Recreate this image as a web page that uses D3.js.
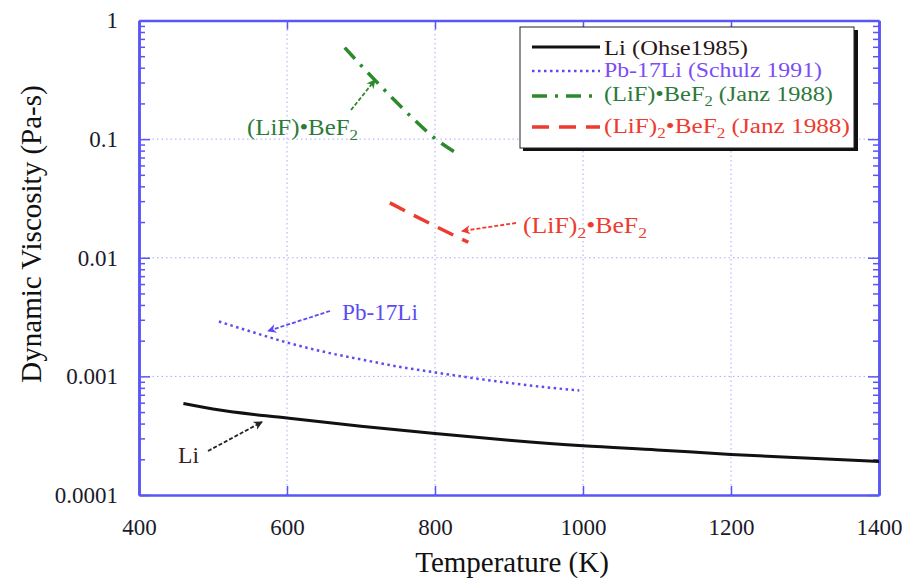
<!DOCTYPE html>
<html>
<head>
<meta charset="utf-8">
<title>Dynamic Viscosity</title>
<script src="https://cdnjs.cloudflare.com/ajax/libs/d3/7.8.5/d3.min.js"></script>
<style>
  body { margin: 0; background: #fff; }
  svg text { font-family: "Liberation Serif", "DejaVu Serif", serif; }
</style>
</head>
<body>
<div id="chart"></div>
<script>
// values
var liT   = [460, 500, 600, 700, 800, 900, 1000, 1100, 1200, 1300, 1400];
var liV   = [5.9e-4, 5.3e-4, 4.45e-4, 3.8e-4, 3.3e-4, 2.9e-4, 2.6e-4, 2.4e-4, 2.2e-4, 2.05e-4, 1.92e-4];
var pbT   = [508, 550, 600, 650, 700, 750, 800, 850, 900, 950, 995];
var pbV   = [2.9e-3, 2.4e-3, 1.93e-3, 1.61e-3, 1.39e-3, 1.21e-3, 1.08e-3, 0.97e-3, 0.88e-3, 0.81e-3, 0.76e-3];
var flibeT = [678, 703, 743, 769, 803, 831];
var flibeV = [0.59, 0.40, 0.22, 0.152, 0.098, 0.075];
var flibe2T = [739, 770, 804, 845];
var flibe2V = [0.029, 0.023, 0.018, 0.0135];

var xTicks = [400, 600, 800, 1000, 1200, 1400];
var yTicks = [0.0001, 0.001, 0.01, 0.1, 1];
var yTickLabels = ["0.0001", "0.001", "0.01", "0.1", "1"];

var W = 907, H = 581;
var L = 139, R = 879, T = 20.5, B = 495;
var frame = "#5a55f5";

var svg = d3.select("#chart").append("svg")
    .attr("width", W).attr("height", H);

var x = d3.scaleLinear().domain([400, 1400]).range([L, R]);
var y = d3.scaleLog().domain([1e-4, 1]).range([B, T]);

// arrow markers
function marker(id, col) {
  svg.append("defs").append("marker")
    .attr("id", id).attr("viewBox", "0 0 10 10")
    .attr("refX", 9).attr("refY", 5)
    .attr("markerWidth", 13).attr("markerHeight", 9)
    .attr("markerUnits", "userSpaceOnUse")
    .attr("orient", "auto")
    .append("path").attr("d", "M0,0 L10,5 L0,10 L3,5 Z").attr("fill", col);
}
marker("aG", "#2c8a2c");
marker("aR", "#ee3b30");
marker("aB", "#5b4cf0");
marker("aK", "#222");

// grid
svg.append("g").selectAll("line")
  .data(xTicks.slice(1, -1)).enter().append("line")
  .attr("x1", d => x(d)).attr("x2", d => x(d))
  .attr("y1", T).attr("y2", B)
  .attr("stroke", "#a8a8ff").attr("stroke-width", 1).attr("stroke-dasharray", "1.5,3");
svg.append("g").selectAll("line")
  .data(yTicks.slice(1, -1)).enter().append("line")
  .attr("x1", L).attr("x2", R)
  .attr("y1", d => y(d)).attr("y2", d => y(d))
  .attr("stroke", "#a8a8ff").attr("stroke-width", 1).attr("stroke-dasharray", "1.5,3");

// minor log ticks
var minors = [];
for (var e = -4; e < 0; e++) for (var m = 2; m <= 9; m++) minors.push(m * Math.pow(10, e));

// axes
svg.append("g").attr("transform", "translate(0," + B + ")")
  .call(d3.axisBottom(x).tickValues(xTicks).tickFormat(d3.format("d"))
    .tickSizeInner(-9).tickSizeOuter(0).tickPadding(24));
svg.append("g").attr("transform", "translate(0," + T + ")")
  .call(d3.axisTop(x).tickValues(xTicks).tickFormat("")
    .tickSizeInner(-9).tickSizeOuter(0));
svg.append("g").attr("transform", "translate(" + L + ",0)")
  .call(d3.axisLeft(y).tickValues(yTicks).tickFormat((d, i) => yTickLabels[i])
    .tickSizeInner(-11).tickSizeOuter(0).tickPadding(21));
svg.append("g").attr("transform", "translate(" + R + ",0)")
  .call(d3.axisRight(y).tickValues(yTicks).tickFormat("")
    .tickSizeInner(-11).tickSizeOuter(0));
svg.append("g").attr("transform", "translate(" + L + ",0)")
  .call(d3.axisLeft(y).tickValues(minors).tickFormat("").tickSizeInner(-6).tickSizeOuter(0));
svg.append("g").attr("transform", "translate(" + R + ",0)")
  .call(d3.axisRight(y).tickValues(minors).tickFormat("").tickSizeInner(-6).tickSizeOuter(0));

svg.selectAll(".domain").attr("stroke", frame).attr("stroke-width", 2.5);
svg.selectAll(".tick line").attr("stroke", frame).attr("stroke-width", 1.5);
svg.selectAll(".tick text").attr("font-size", 23).attr("fill", "#1a1a2a")
  .style("font-family", "Liberation Serif, serif");

// series
var line = d3.line().x(d => x(d[0])).y(d => y(d[1])).curve(d3.curveMonotoneX);

svg.append("path").datum(d3.zip(liT, liV)).attr("d", line)
  .attr("fill", "none").attr("stroke", "#111").attr("stroke-width", 3);
svg.append("path").datum(d3.zip(pbT, pbV)).attr("d", line)
  .attr("fill", "none").attr("stroke", "#5b4cf0").attr("stroke-width", 2.5)
  .attr("stroke-dasharray", "2.5,3.5");
svg.append("path").datum(d3.zip(flibeT, flibeV)).attr("d", line)
  .attr("fill", "none").attr("stroke", "#2c8a2c").attr("stroke-width", 3.5)
  .attr("stroke-dasharray", "15,8,3,8");
svg.append("path").datum(d3.zip(flibe2T, flibe2V)).attr("d", line)
  .attr("fill", "none").attr("stroke", "#ee3b30").attr("stroke-width", 3.5)
  .attr("stroke-dasharray", "17,10");

// text with subscripts, stretched sideways to the width seen in the picture
function label(xx, yy, col, parts, size, width) {
  var t = svg.append("text").attr("x", 0).attr("y", 0).attr("font-size", size)
    .attr("fill", col);
  parts.forEach(function (p) {
    if (p.sub) t.append("tspan").attr("dy", 5).attr("font-size", size * 0.68).text(p.t);
    else t.append("tspan").attr("dy", p.up ? -5 : 0).text(p.t);
  });
  var sx = width ? width / t.node().getBBox().width : 1;
  t.attr("transform", "translate(" + xx + "," + yy + ") scale(" + sx + ",1)");
  return t;
}
label(247, 135, "#2c7a3a", [{t: "(LiF)\u2022BeF"}, {t: "2", sub: true}], 23, 111);
label(523, 233, "#ee3b30", [{t: "(LiF)"}, {t: "2", sub: true}, {t: "\u2022BeF", up: true}, {t: "2", sub: true}], 23, 124);
label(342, 320, "#5b4cf0", [{t: "Pb-17Li"}], 23, 76);
label(178, 463, "#3a2222", [{t: "Li"}], 23, 21);

function arrow(x1, y1, x2, y2, col, id) {
  svg.append("line").attr("x1", x1).attr("y1", y1).attr("x2", x2).attr("y2", y2)
    .attr("stroke", col).attr("stroke-width", 1.8).attr("stroke-dasharray", "4,2")
    .attr("marker-end", "url(#" + id + ")");
}
arrow(351, 110, 375, 80, "#2c8a2c", "aG");
arrow(516, 223, 462, 231, "#ee3b30", "aR");
arrow(330, 311, 268, 331, "#5b4cf0", "aB");
arrow(208, 451, 262, 422, "#222", "aK");

// legend
var lg = svg.append("g");
lg.append("rect").attr("x", 523).attr("y", 30).attr("width", 335).attr("height", 121).attr("fill", "#111");
lg.append("rect").attr("x", 520).attr("y", 27).attr("width", 334).attr("height", 121)
  .attr("fill", "#fff").attr("stroke", "#222").attr("stroke-width", 1);

var legRows = [
  {y: 47, ty: 55, wd: 144, col: "#111", tcol: "#2a1616", dash: null, w: 3, parts: [{t: "Li (Ohse1985)"}]},
  {y: 71, ty: 77, wd: 218, col: "#5b4cf0", tcol: "#7a4df5", dash: "2.5,3.5", w: 2.5, parts: [{t: "Pb-17Li (Schulz 1991)"}]},
  {y: 96, ty: 101, wd: 229, col: "#2c8a2c", tcol: "#2c7a3a", dash: "15,8,3,8", w: 3.5, parts: [{t: "(LiF)\u2022BeF"}, {t: "2", sub: true}, {t: " (Janz 1988)", up: true}]},
  {y: 127, ty: 133, wd: 246, col: "#ee3b30", tcol: "#ee3b30", dash: "17,10", w: 3.5, parts: [{t: "(LiF)"}, {t: "2", sub: true}, {t: "\u2022BeF", up: true}, {t: "2", sub: true}, {t: " (Janz 1988)", up: true}]}
];
legRows.forEach(function (r) {
  lg.append("line").attr("x1", 532).attr("x2", 600).attr("y1", r.y).attr("y2", r.y)
    .attr("stroke", r.col).attr("stroke-width", r.w)
    .attr("stroke-dasharray", r.dash);
  label(604, r.ty, r.tcol, r.parts, 20, r.wd);
});

// axis titles
svg.append("text").attr("x", 512).attr("y", 572).attr("text-anchor", "middle")
  .attr("font-size", 29).attr("fill", "#111").text("Temperature (K)");
svg.append("text").attr("transform", "translate(41,234) rotate(-90)")
  .attr("text-anchor", "middle").attr("font-size", 29).attr("fill", "#111")
  .text("Dynamic Viscosity (Pa-s)");
</script>
</body>
</html>
